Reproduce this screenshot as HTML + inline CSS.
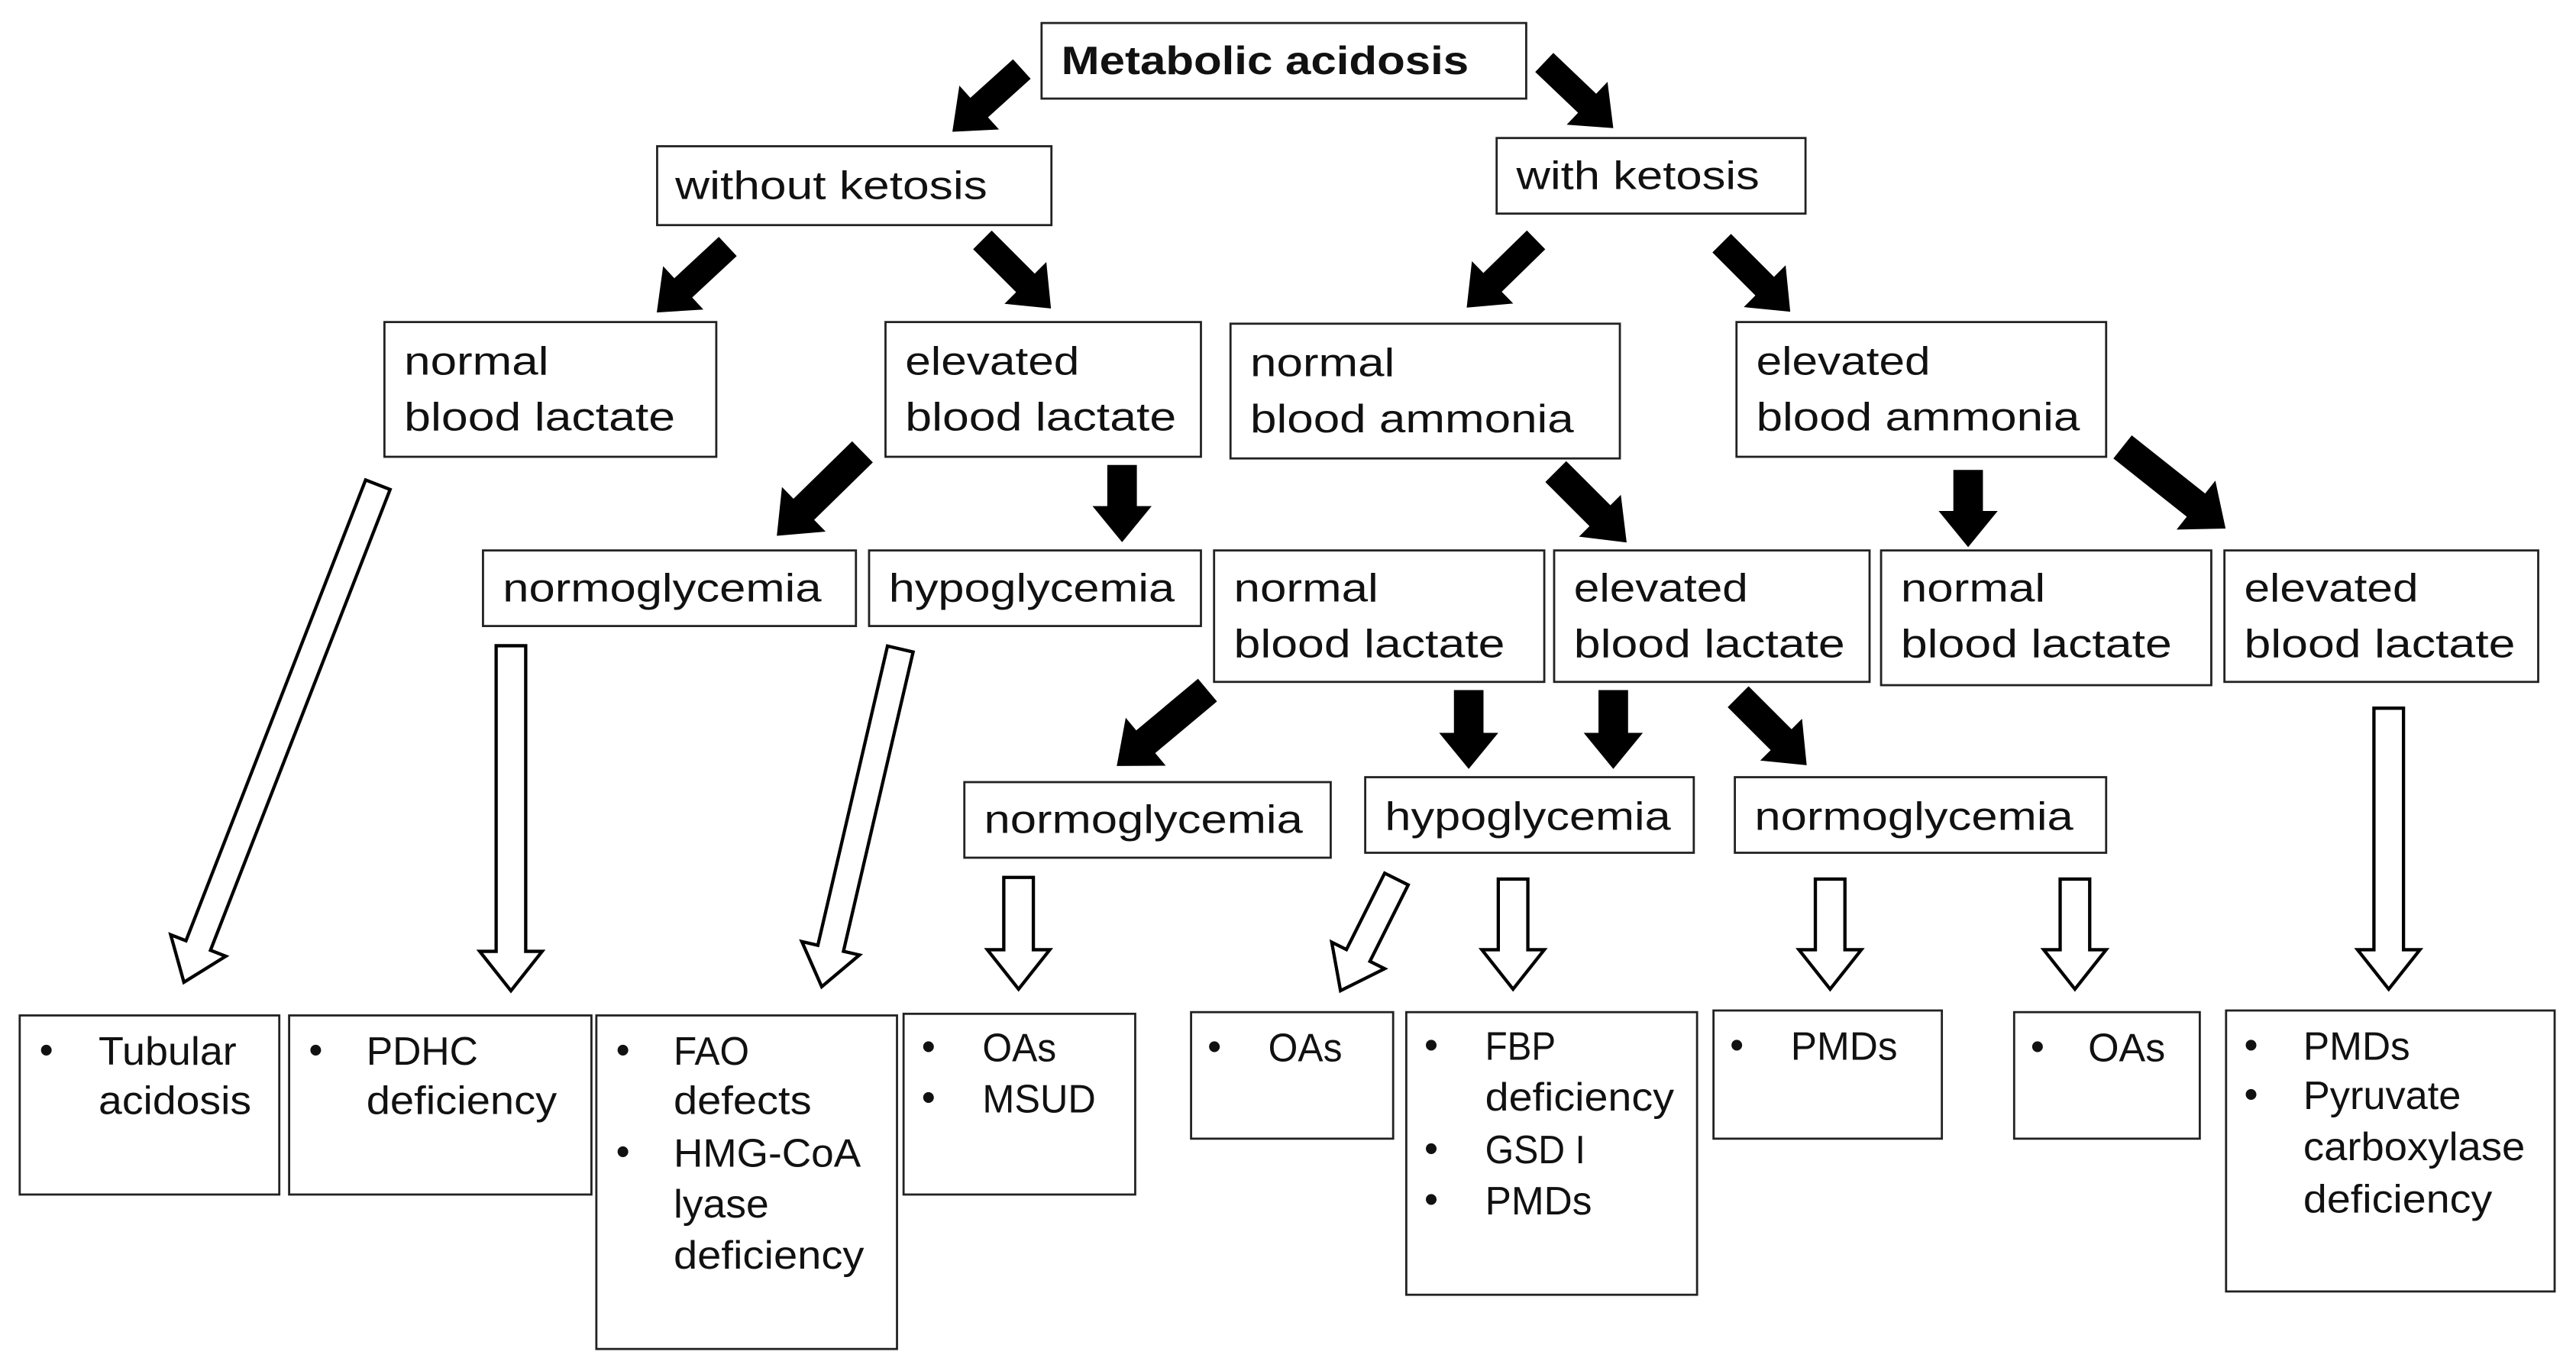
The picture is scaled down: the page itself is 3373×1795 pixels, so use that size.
<!DOCTYPE html>
<html><head><meta charset="utf-8"><style>
html,body{margin:0;padding:0;background:#fff;}
svg{display:block}
text{font-family:"Liberation Sans",sans-serif;font-size:24px;fill:#111}
.b{fill:#fff;stroke:#222;stroke-width:1.3}
.k{fill:#000}
.w{fill:#fff;stroke:#000;stroke-width:2;stroke-linejoin:miter}
</style></head><body>
<svg width="3373" height="1795" viewBox="0 0 1568 834.4" preserveAspectRatio="none">
<rect class="b" x="634" y="14" width="295" height="46"/>
<rect class="b" x="400" y="89" width="240" height="48"/>
<rect class="b" x="911" y="84" width="188" height="46"/>
<rect class="b" x="234" y="196" width="202" height="82"/>
<rect class="b" x="539" y="196" width="192" height="82"/>
<rect class="b" x="749" y="197" width="237" height="82"/>
<rect class="b" x="1057" y="196" width="225" height="82"/>
<rect class="b" x="294" y="335" width="227" height="46"/>
<rect class="b" x="529" y="335" width="202" height="46"/>
<rect class="b" x="739" y="335" width="201" height="80"/>
<rect class="b" x="946" y="335" width="192" height="80"/>
<rect class="b" x="1145" y="335" width="201" height="82"/>
<rect class="b" x="1354" y="335" width="191" height="80"/>
<rect class="b" x="587" y="476" width="223" height="46"/>
<rect class="b" x="831" y="473" width="200" height="46"/>
<rect class="b" x="1056" y="473" width="226" height="46"/>
<rect class="b" x="12" y="618" width="158" height="109"/>
<rect class="b" x="176" y="618" width="184" height="109"/>
<rect class="b" x="363" y="618" width="183" height="203"/>
<rect class="b" x="550" y="617" width="141" height="110"/>
<rect class="b" x="725" y="616" width="123" height="77"/>
<rect class="b" x="856" y="616" width="177" height="172"/>
<rect class="b" x="1043" y="615" width="139" height="78"/>
<rect class="b" x="1226" y="616" width="113" height="77"/>
<rect class="b" x="1355" y="615" width="200" height="171"/>

<text x="646" y="45" font-weight="bold" textLength="248" lengthAdjust="spacingAndGlyphs">Metabolic acidosis</text>
<text x="411" y="121" textLength="190" lengthAdjust="spacingAndGlyphs">without ketosis</text>
<text x="923" y="115" textLength="148" lengthAdjust="spacingAndGlyphs">with ketosis</text>
<text x="246" y="228" textLength="88" lengthAdjust="spacingAndGlyphs">normal</text>
<text x="246" y="262" textLength="165" lengthAdjust="spacingAndGlyphs">blood lactate</text>
<text x="551" y="228" textLength="106" lengthAdjust="spacingAndGlyphs">elevated</text>
<text x="551" y="262" textLength="165" lengthAdjust="spacingAndGlyphs">blood lactate</text>
<text x="761" y="229" textLength="88" lengthAdjust="spacingAndGlyphs">normal</text>
<text x="761" y="263" textLength="197" lengthAdjust="spacingAndGlyphs">blood ammonia</text>
<text x="1069" y="228" textLength="106" lengthAdjust="spacingAndGlyphs">elevated</text>
<text x="1069" y="262" textLength="197" lengthAdjust="spacingAndGlyphs">blood ammonia</text>
<text x="306" y="366" textLength="194" lengthAdjust="spacingAndGlyphs">normoglycemia</text>
<text x="541" y="366" textLength="174" lengthAdjust="spacingAndGlyphs">hypoglycemia</text>
<text x="751" y="366" textLength="88" lengthAdjust="spacingAndGlyphs">normal</text>
<text x="751" y="400" textLength="165" lengthAdjust="spacingAndGlyphs">blood lactate</text>
<text x="958" y="366" textLength="106" lengthAdjust="spacingAndGlyphs">elevated</text>
<text x="958" y="400" textLength="165" lengthAdjust="spacingAndGlyphs">blood lactate</text>
<text x="1157" y="366" textLength="88" lengthAdjust="spacingAndGlyphs">normal</text>
<text x="1157" y="400" textLength="165" lengthAdjust="spacingAndGlyphs">blood lactate</text>
<text x="1366" y="366" textLength="106" lengthAdjust="spacingAndGlyphs">elevated</text>
<text x="1366" y="400" textLength="165" lengthAdjust="spacingAndGlyphs">blood lactate</text>
<text x="599" y="507" textLength="194" lengthAdjust="spacingAndGlyphs">normoglycemia</text>
<text x="843" y="505" textLength="174" lengthAdjust="spacingAndGlyphs">hypoglycemia</text>
<text x="1068" y="505" textLength="194" lengthAdjust="spacingAndGlyphs">normoglycemia</text>

<g font-size="22">
<text x="24" y="647">•</text>
<text x="60" y="648" textLength="84" lengthAdjust="spacingAndGlyphs">Tubular</text>
<text x="60" y="678" textLength="93" lengthAdjust="spacingAndGlyphs">acidosis</text>
<text x="188" y="647">•</text>
<text x="223" y="648" textLength="68" lengthAdjust="spacingAndGlyphs">PDHC</text>
<text x="223" y="678" textLength="116" lengthAdjust="spacingAndGlyphs">deficiency</text>
<text x="375" y="647">•</text>
<text x="410" y="648" textLength="46" lengthAdjust="spacingAndGlyphs">FAO</text>
<text x="410" y="678" textLength="84" lengthAdjust="spacingAndGlyphs">defects</text>
<text x="375" y="709">•</text>
<text x="410" y="710" textLength="114" lengthAdjust="spacingAndGlyphs">HMG-CoA</text>
<text x="410" y="741" textLength="58" lengthAdjust="spacingAndGlyphs">lyase</text>
<text x="410" y="772" textLength="116" lengthAdjust="spacingAndGlyphs">deficiency</text>
<text x="561" y="645">•</text>
<text x="598" y="646" textLength="45" lengthAdjust="spacingAndGlyphs">OAs</text>
<text x="561" y="676">•</text>
<text x="598" y="677" textLength="69" lengthAdjust="spacingAndGlyphs">MSUD</text>
<text x="735" y="645">•</text>
<text x="772" y="646" textLength="45" lengthAdjust="spacingAndGlyphs">OAs</text>
<text x="867" y="644">•</text>
<text x="904" y="645" textLength="43" lengthAdjust="spacingAndGlyphs">FBP</text>
<text x="904" y="676" textLength="115" lengthAdjust="spacingAndGlyphs">deficiency</text>
<text x="867" y="707">•</text>
<text x="904" y="708" textLength="61" lengthAdjust="spacingAndGlyphs">GSD I</text>
<text x="867" y="738">•</text>
<text x="904" y="739" textLength="65" lengthAdjust="spacingAndGlyphs">PMDs</text>
<text x="1053" y="644">•</text>
<text x="1090" y="645" textLength="65" lengthAdjust="spacingAndGlyphs">PMDs</text>
<text x="1236" y="645">•</text>
<text x="1271" y="646" textLength="47" lengthAdjust="spacingAndGlyphs">OAs</text>
<text x="1366" y="644">•</text>
<text x="1402" y="645" textLength="65" lengthAdjust="spacingAndGlyphs">PMDs</text>
<text x="1366" y="674">•</text>
<text x="1402" y="675" textLength="96" lengthAdjust="spacingAndGlyphs">Pyruvate</text>
<text x="1402" y="706" textLength="135" lengthAdjust="spacingAndGlyphs">carboxylase</text>
<text x="1402" y="738" textLength="115" lengthAdjust="spacingAndGlyphs">deficiency</text>
</g>

<g class="k">
<polygon transform="translate(622,42) rotate(137.9)" points="0,-8 35,-8 35,-18 57,0 35,18 35,8 0,8"/>
<polygon transform="translate(940,38) rotate(43.6)" points="0,-8 36,-8 36,-18 58,0 36,18 36,8 0,8"/>
<polygon transform="translate(443,150) rotate(137.1)" points="0,-8 37,-8 37,-18 59,0 37,18 37,8 0,8"/>
<polygon transform="translate(598,146) rotate(45)" points="0,-8 37,-8 37,-18 59,0 37,18 37,8 0,8"/>
<polygon transform="translate(935,146) rotate(135.7)" points="0,-8 37,-8 37,-18 59,0 37,18 37,8 0,8"/>
<polygon transform="translate(1048,148) rotate(45)" points="0,-8 37,-8 37,-18 59,0 37,18 37,8 0,8"/>
<polygon transform="translate(525,275) rotate(135.6)" points="0,-9 50,-9 50,-19 73,0 50,19 50,9 0,9"/>
<polygon transform="translate(683,283) rotate(90)" points="0,-9 25,-9 25,-18 47,0 25,18 25,9 0,9"/>
<polygon transform="translate(947,287) rotate(45)" points="0,-9 38,-9 38,-18 61,0 38,18 38,9 0,9"/>
<polygon transform="translate(1198,286) rotate(90)" points="0,-9 25,-9 25,-18 47,0 25,18 25,9 0,9"/>
<polygon transform="translate(1292,272) rotate(38.4)" points="0,-9 57,-9 57,-19 80,0 57,19 57,9 0,9"/>
<polygon transform="translate(735,420) rotate(140.1)" points="0,-9 49,-9 49,-19 72,0 49,19 49,9 0,9"/>
<polygon transform="translate(894,420) rotate(90)" points="0,-9 26,-9 26,-18 48,0 26,18 26,9 0,9"/>
<polygon transform="translate(982,420) rotate(90)" points="0,-9 26,-9 26,-18 48,0 26,18 26,9 0,9"/>
<polygon transform="translate(1058,424) rotate(45)" points="0,-9 37,-9 37,-18 59,0 37,18 37,9 0,9"/>
</g>

<g class="w">
<polygon transform="translate(230,295) rotate(111.3)" points="0,-8 301,-8 301,-18 325,0 301,18 301,8 0,8"/>
<polygon transform="translate(311,393) rotate(90)" points="0,-9 186,-9 186,-19 210,0 186,19 186,9 0,9"/>
<polygon transform="translate(548,395) rotate(103.1)" points="0,-8 187,-8 187,-18 211,0 187,18 187,8 0,8"/>
<polygon transform="translate(620,534) rotate(90)" points="0,-9 44,-9 44,-19 68,0 44,19 44,9 0,9"/>
<polygon transform="translate(850,535) rotate(116.6)" points="0,-8 52,-8 52,-18 76,0 52,18 52,8 0,8"/>
<polygon transform="translate(921,535) rotate(90)" points="0,-9 43,-9 43,-19 67,0 43,19 43,9 0,9"/>
<polygon transform="translate(1114,535) rotate(90)" points="0,-9 43,-9 43,-19 67,0 43,19 43,9 0,9"/>
<polygon transform="translate(1263,535) rotate(90)" points="0,-9 43,-9 43,-19 67,0 43,19 43,9 0,9"/>
<polygon transform="translate(1454,431) rotate(90)" points="0,-9 147,-9 147,-19 171,0 147,19 147,9 0,9"/>
</g>
</svg>
</body></html>
